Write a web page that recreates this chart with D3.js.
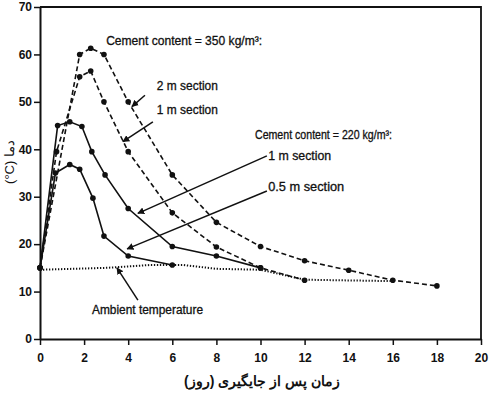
<!DOCTYPE html>
<html>
<head>
<meta charset="utf-8">
<script src="https://cdn.jsdelivr.net/npm/d3@7"></script>
<style>
  body { margin: 0; background: #fff; }
  svg text { font-family: "Liberation Sans", Arial, sans-serif; fill: #111; }
</style>
</head>
<body>
<svg id="chart" width="500" height="396"></svg>
<script>
// cement 350 kg/m3, 2 m section (dashed)
const days350_2m = [0, 1.8, 2.3, 2.9, 4, 6, 8, 10, 12, 14, 16, 18];
const temp350_2m = [15, 60, 61.3, 60, 50, 34.6, 24.6, 19.5, 16.5, 14.5, 12.4, 11.2];
// cement 350 kg/m3, 1 m section (dashed)
const days350_1m = [0, 0.75, 1.8, 2.3, 2.9, 4, 6, 8, 10, 12];
const temp350_1m = [15, 39.5, 55.3, 56.5, 50, 39.5, 26.6, 19.4, 15, 12.4];
// cement 220 kg/m3, 1 m section (solid)
const days220_1m = [0, 0.8, 1.35, 1.9, 2.35, 2.95, 4, 6, 8, 10];
const temp220_1m = [15, 45, 45.8, 44.8, 39.5, 34.6, 27.5, 19.5, 17.5, 15];
// cement 220 kg/m3, 0.5 m section (solid)
const days220_05m = [0, 0.7, 1.35, 1.8, 2.4, 2.9, 4, 6];
const temp220_05m = [15, 35, 36.8, 35.8, 29.7, 21.7, 17.5, 15.6];
// ambient temperature (dotted)
const daysAmb = [0, 3, 5, 6.5, 8, 10, 12, 16];
const tempAmb = [14.6, 15, 15.6, 15.6, 14.8, 14.6, 12.5, 12.2];

const xTicks = [0, 2, 4, 6, 8, 10, 12, 14, 16, 18, 20];
const yTicks = [0, 10, 20, 30, 40, 50, 60, 70];

const xTitle = "زمان پس از جایگیری (روز)";
const yTitle = "(°C) دما";

const svg = d3.select("#chart");
const x = d3.scaleLinear().domain([0, 20]).range([40, 481]);
const y = d3.scaleLinear().domain([0, 70]).range([339, 7]);

const defs = svg.append("defs");
defs.append("marker")
  .attr("id", "arrow")
  .attr("viewBox", "0 0 10 10")
  .attr("refX", 9).attr("refY", 5)
  .attr("markerWidth", 7).attr("markerHeight", 7)
  .attr("markerUnits", "userSpaceOnUse")
  .attr("orient", "auto")
  .append("path").attr("d", "M0,0L10,5L0,10Z").attr("fill", "#111");

// frame (top and right)
svg.append("path")
  .attr("d", `M${x(0)},${y(70)}H${x(20)}V${y(0)}`)
  .attr("fill", "none").attr("stroke", "#111").attr("stroke-width", 1.8);

const xAxis = svg.append("g")
  .attr("transform", `translate(0,${y(0)})`)
  .call(d3.axisBottom(x).tickValues(xTicks).tickSize(6).tickPadding(8).tickSizeOuter(0));
const yAxis = svg.append("g")
  .attr("transform", `translate(${x(0)},0)`)
  .call(d3.axisLeft(y).tickValues(yTicks).tickSize(6).tickPadding(2).tickSizeOuter(0));

[xAxis, yAxis].forEach(g => {
  g.select(".domain").attr("stroke", "#111").attr("stroke-width", 2);
  g.selectAll(".tick line").attr("stroke", "#111").attr("stroke-width", 1.5);
  g.selectAll(".tick text")
    .attr("font-family", "'Liberation Sans', Arial, sans-serif")
    .attr("font-size", 12).attr("font-weight", "bold").attr("fill", "#111");
});

const line = d3.line().x(d => x(d[0])).y(d => y(d[1]));
const zip = (a, b) => a.map((v, i) => [v, b[i]]);

const series = [
  { pts: zip(daysAmb, tempAmb), dash: "1.3,1.7", width: 2, dots: false },
  { pts: zip(days350_2m, temp350_2m), dash: "5,3", width: 1.6, dots: true },
  { pts: zip(days350_1m, temp350_1m), dash: "5,3", width: 1.6, dots: true },
  { pts: zip(days220_1m, temp220_1m), dash: null, width: 1.6, dots: true },
  { pts: zip(days220_05m, temp220_05m), dash: null, width: 1.6, dots: true }
];

series.forEach(s => {
  svg.append("path")
    .datum(s.pts)
    .attr("d", line)
    .attr("fill", "none")
    .attr("stroke", "#111")
    .attr("stroke-width", s.width)
    .attr("stroke-dasharray", s.dash);
  if (s.dots) {
    svg.append("g").selectAll("circle")
      .data(s.pts)
      .join("circle")
      .attr("cx", d => x(d[0]))
      .attr("cy", d => y(d[1]))
      .attr("r", 2.8)
      .attr("fill", "#111");
  }
});

// pointer lines (data units): [x1, y1, x2, y2]
const pointers = [
  [4.76, 51.4, 4.17, 49.0],
  [5.12, 45.8, 3.76, 41.6],
  [10.29, 38.6, 4.44, 26.5],
  [10.29, 31.2, 3.95, 19.0],
  [4.44, 8.2, 3.49, 15.0]
];
svg.append("g").selectAll("line")
  .data(pointers)
  .join("line")
  .attr("x1", d => x(d[0])).attr("y1", d => y(d[1]))
  .attr("x2", d => x(d[2])).attr("y2", d => y(d[3]))
  .attr("stroke", "#111").attr("stroke-width", 1.5)
  .attr("marker-end", "url(#arrow)");

// annotation texts: [x, y, text, width]
const notes = [
  [3.0, 62.0, "Cement content = 350 kg/m³:", 156],
  [5.3, 52.5, "2 m section", 61],
  [5.3, 47.4, "1 m section", 61],
  [9.75, 42.2, "Cement content = 220 kg/m³:", 137],
  [10.35, 37.8, "1 m section", 63],
  [10.35, 31.2, "0.5 m section", 76],
  [2.36, 5.3, "Ambient temperature", 111]
];
svg.append("g").selectAll("text")
  .data(notes)
  .join("text")
  .attr("x", d => x(d[0])).attr("y", d => y(d[1]))
  .attr("font-size", 12)
  .attr("textLength", d => d[3])
  .attr("lengthAdjust", "spacingAndGlyphs")
  .attr("stroke", "#111").attr("stroke-width", 0.3)
  .text(d => d[2]);

svg.append("text")
  .attr("x", 262).attr("y", 386)
  .attr("direction", "rtl")
  .attr("text-anchor", "middle")
  .attr("font-family", "'DejaVu Sans', 'Noto Sans', sans-serif")
  .attr("font-size", 14)
  .attr("font-weight", "bold")
  .text(xTitle);

svg.append("text")
  .attr("transform", "translate(14,162) rotate(-90)")
  .attr("text-anchor", "middle")
  .attr("font-family", "'DejaVu Sans', 'Noto Sans', sans-serif")
  .attr("font-size", 13)
  .text(yTitle);
</script>
</body>
</html>
